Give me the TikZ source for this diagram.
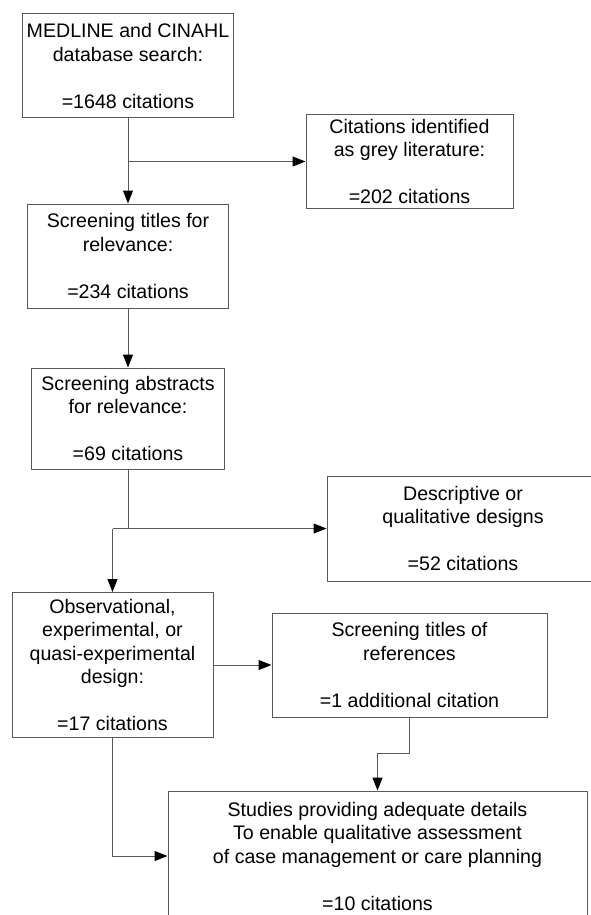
\documentclass[tikz,border=0pt]{standalone}
\usepackage{fontspec}
\setmainfont{Liberation Sans}
\usepackage{tikz}
\usetikzlibrary{arrows.meta,positioning}

\begin{document}
\begin{tikzpicture}[x=1pt, y=-1pt,
            box/.style={draw=black!65, line width=1pt, rectangle, inner sep=0pt, align=center,
                 font=\fontsize{19.6}{23.5}\selectfont},
            link/.style={draw=black!65, line width=1pt},
            >={Triangle[length=13pt, width=10pt, color=black]}
            ]
            \useasboundingbox (0,0) rectangle (590,915);

            % Nodes with manual coordinates
            \node[box, minimum width=211pt, minimum height=104pt] (search) at (128,66) {MEDLINE and CINAHL\\database search:\\[23.5pt]=1648 citations};
            \node[box, minimum width=207pt, minimum height=93pt] (grey) at (409.5,161.5) {Citations identified\\as grey literature:\\[23.5pt]=202 citations};
            \node[box, minimum width=201pt, minimum height=104pt] (titles) at (128,256) {Screening titles for\\relevance:\\[23.5pt]=234 citations};
            \node[box, minimum width=193pt, minimum height=101pt] (abstracts) at (128,418.5) {Screening abstracts\\for relevance:\\[23.5pt]=69 citations};
            \node[box, minimum width=272pt, minimum height=105pt] (desc) at (463,528.5) {Descriptive or\\qualitative designs\\[23.5pt]=52 citations};
            \node[box, minimum width=201pt, minimum height=145pt] (obs) at (112.5,665) {Observational,\\experimental, or\\quasi-experimental\\design:\\[23.5pt]=17 citations};
            \node[box, minimum width=275pt, minimum height=104pt] (refs) at (409.5,665) {Screening titles of\\references\\[23.5pt]=1 additional citation};
            \node[box, minimum width=419pt, minimum height=130pt] (final) at (377.5,856) {Studies providing adequate details\\To enable qualitative assessment\\of case management or care planning\\[23.5pt]=10 citations};

            % Arrows
            \draw[link, ->] (search) -- (titles);
            \draw[link, ->] (search.south |- grey.west) -- (grey.west);
            \draw[link, ->] (titles) -- (abstracts);
            \draw[link] (abstracts.south) -- (abstracts.south |- desc.west);
            \draw[link, ->] (obs.north |- desc.west) -- (desc.west);
            \draw[link, ->] (obs.north |- desc.west) -- (obs.north);
            \draw[link, ->] (obs) -- (refs);
            \draw[link, ->] (refs.south) -- ++(0,36) -| (final.north);
            \draw[link, ->] (obs.south) |- (final.west);
        \end{tikzpicture}
\end{document}
